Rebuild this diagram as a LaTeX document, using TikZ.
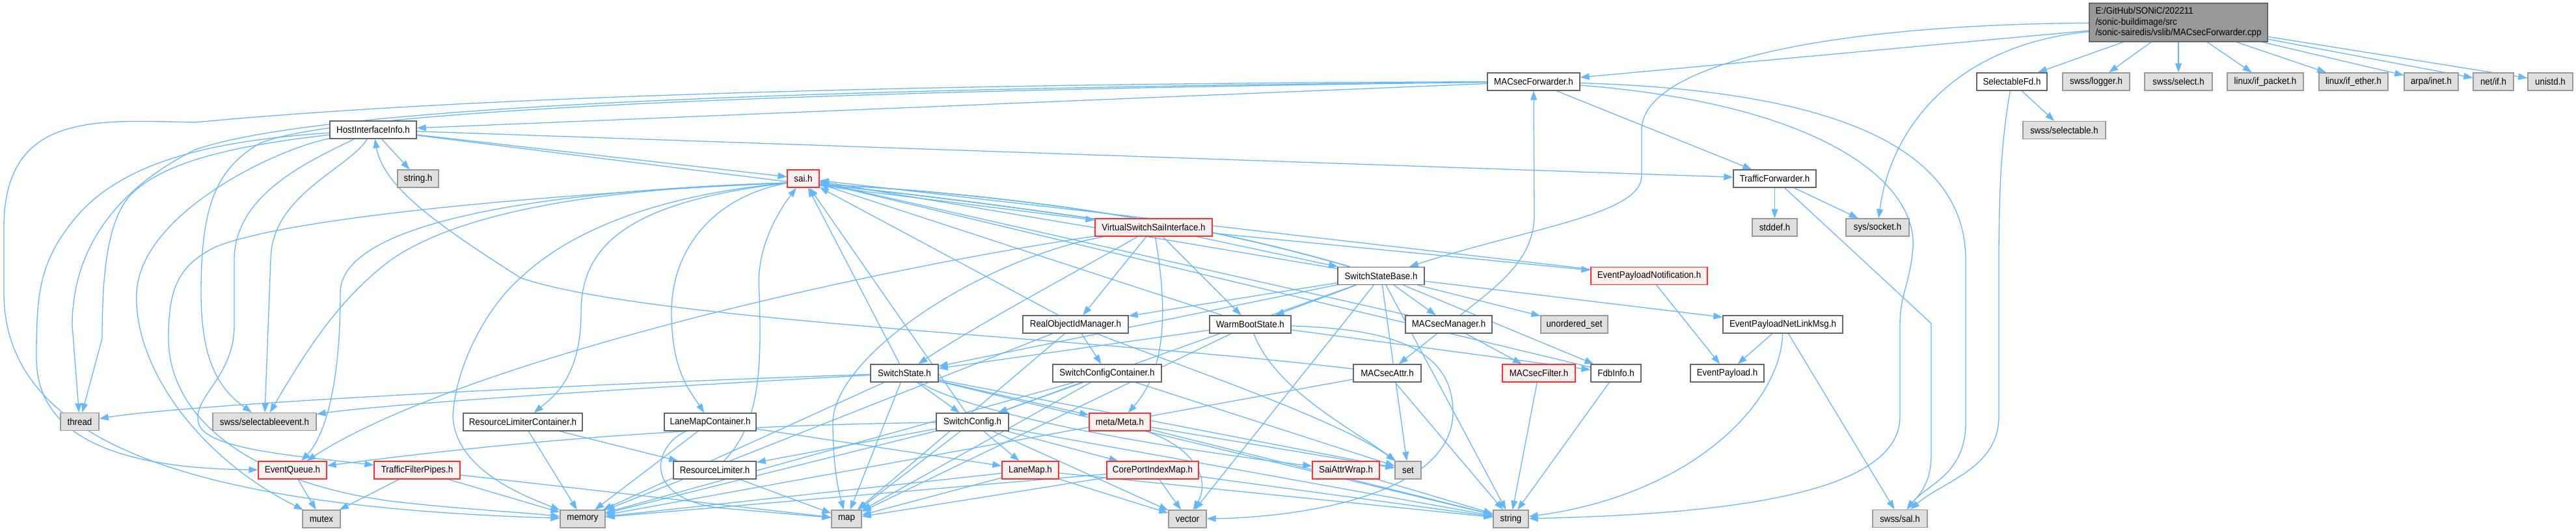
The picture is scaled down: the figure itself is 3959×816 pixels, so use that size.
\documentclass[tikz,border=0pt]{standalone}
\usepackage{fontspec}
\setmainfont{Liberation Sans}
\newfontfamily\dotfont{Liberation Sans}[FakeStretch=0.92]
\usetikzlibrary{arrows.meta,positioning,calc}
\pgfdeclarelayer{bg}
\pgfsetlayers{bg,main}
\definecolor{edgeblue}{HTML}{63B8FF}
\definecolor{boxedge}{HTML}{666666}
\definecolor{sysedge}{HTML}{999999}
\definecolor{sysfill}{HTML}{E0E0E0}
\definecolor{truncedge}{HTML}{FF3030}
\definecolor{truncfill}{HTML}{FFF0F0}
\definecolor{rootfill}{HTML}{999999}

\begin{document}
\begin{tikzpicture}[
  x=1pt, y=-1pt,
  font=\fontsize{14.5}{16.5}\dotfont,
  box/.style={rectangle, minimum height=27pt, inner sep=0pt, line width=1.3pt},
  hdr/.style={box, draw=boxedge, fill=white},
  sys/.style={box, draw=sysedge, fill=sysfill},
  trunc/.style={box, draw=truncedge, fill=truncfill},
  top/.style={box, draw=boxedge, fill=rootfill, minimum height=59pt, align=left},
  dep/.style={draw=edgeblue, line width=1.3pt, -{Triangle[length=14pt,width=10pt]}}
]
\useasboundingbox (0,0) rectangle (3959,816);

% ---------------- rank 0/1 ----------------
\node[top, minimum width=274pt] (root) at (3348,34.5) {E:/GitHub/SONiC/202211\\/sonic-buildimage/src\\/sonic-sairedis/vslib/MACsecForwarder.cpp};
\node[hdr, minimum width=142pt] (MF) at (2357,125.5) {MACsecForwarder.h};
\node[hdr, minimum width=108pt] (SFD) at (3092,125.5) {SelectableFd.h};
\node[sys, minimum width=103pt] (logger) at (3221.5,125.5) {swss/logger.h};
\node[sys, minimum width=104pt] (select) at (3348,125.5) {swss/select.h};
\node[sys, minimum width=117pt] (ifpacket) at (3481.5,125.5) {linux/if\_packet.h};
\node[sys, minimum width=106pt] (ifether) at (3617,125.5) {linux/if\_ether.h};
\node[sys, minimum width=83pt] (inet) at (3736.5,125.5) {arpa/inet.h};
\node[sys, minimum width=62pt] (netif) at (3832,125.5) {net/if.h};
\node[sys, minimum width=69pt] (unistd) at (3919.5,125.5) {unistd.h};

% ---------------- rank 2-4 ----------------
\node[sys, minimum width=127pt] (selectable) at (3172.5,200) {swss/selectable.h};
\node[hdr, minimum width=133pt] (HII) at (573.5,199.5) {HostInterfaceInfo.h};
\node[sys, minimum width=63pt] (stringh) at (642.5,274.5) {string.h};
\node[trunc, minimum width=49pt] (sai) at (1234.5,274.5) {sai.h};
\node[hdr, minimum width=127pt] (TF) at (2727.5,274.5) {TrafficForwarder.h};
\node[sys, minimum width=69pt] (stddef) at (2727.5,349.5) {stddef.h};
\node[sys, minimum width=97pt] (socket) at (2885.5,349.5) {sys/socket.h};
\node[trunc, minimum width=180pt] (VSSI) at (1773,349.5) {VirtualSwitchSaiInterface.h};

% ---------------- rank 5-7 ----------------
\node[hdr, minimum width=133pt] (SSB) at (2122.5,424) {SwitchStateBase.h};
\node[trunc, minimum width=179pt] (EPN) at (2534.5,424) {EventPayloadNotification.h};
\node[hdr, minimum width=162pt] (ROIM) at (1653,498.5) {RealObjectIdManager.h};
\node[hdr, minimum width=125pt] (WBS) at (1921.5,498.5) {WarmBootState.h};
\node[hdr, minimum width=133pt] (MM) at (2226.5,498.5) {MACsecManager.h};
\node[sys, minimum width=103pt] (uset) at (2419.5,498.5) {unordered\_set};
\node[hdr, minimum width=184pt] (EPNL) at (2740,498.5) {EventPayloadNetLinkMsg.h};
\node[hdr, minimum width=104pt] (SS) at (1390,573.5) {SwitchState.h};
\node[hdr, minimum width=167pt] (SCC) at (1701.5,573.5) {SwitchConfigContainer.h};
\node[hdr, minimum width=104pt] (MA) at (2132,573.5) {MACsecAttr.h};
\node[trunc, minimum width=112pt] (MFil) at (2365,573.5) {MACsecFilter.h};
\node[hdr, minimum width=77pt] (Fdb) at (2483.5,573.5) {FdbInfo.h};
\node[hdr, minimum width=113pt] (EP) at (2654.5,573.5) {EventPayload.h};

% ---------------- rank 8-10 ----------------
\node[sys, minimum width=59pt] (stdthread) at (122.5,648) {thread};
\node[sys, minimum width=159pt] (selev) at (406.5,648) {swss/selectableevent.h};
\node[hdr, minimum width=183pt] (RLC) at (803.5,648.5) {ResourceLimiterContainer.h};
\node[hdr, minimum width=141pt] (LMC) at (1091.5,648.5) {LaneMapContainer.h};
\node[hdr, minimum width=111pt] (SC) at (1494.5,648.5) {SwitchConfig.h};
\node[trunc, minimum width=94pt] (Meta) at (1721,648.5) {meta/Meta.h};
\node[trunc, minimum width=105pt] (EQ) at (449.5,722.5) {EventQueue.h};
\node[trunc, minimum width=132pt] (TFP) at (641,722.5) {TrafficFilterPipes.h};
\node[hdr, minimum width=127pt] (RL) at (1098.5,722.5) {ResourceLimiter.h};
\node[trunc, minimum width=87pt] (LM) at (1583.5,722.5) {LaneMap.h};
\node[trunc, minimum width=141pt] (CPIM) at (1771.5,722.5) {CorePortIndexMap.h};
\node[trunc, minimum width=103pt] (SAW) at (2068.5,722.5) {SaiAttrWrap.h};
\node[sys, minimum width=40pt] (stdset) at (2164,722.5) {set};
\node[sys, minimum width=58pt] (stdmutex) at (494,797.5) {mutex};
\node[sys, minimum width=69pt] (stdmemory) at (895.5,797.5) {memory};
\node[sys, minimum width=46pt] (stdmap) at (1301,797.5) {map};
\node[sys, minimum width=58pt] (stdvector) at (1825,797.5) {vector};
\node[sys, minimum width=54pt] (stdstring) at (2322,797.5) {string};
\node[sys, minimum width=84pt] (sal) at (2920,797) {swss/sal.h};

\begin{pgfonlayer}{bg}
% root file
\draw[dep] (root) -- (MF);
\draw[dep] (root) .. controls (2800,38) and (2523,100) .. (2523,200) -- (2523,270) .. controls (2523,330) and (2350,350) .. (SSB);
\draw[dep] (root) -- (SFD);
\draw[dep] (root) -- (logger);
\draw[dep] (root) -- (select);
\draw[dep] (root) -- (ifpacket);
\draw[dep] (root) -- (ifether);
\draw[dep] (root) -- (inet);
\draw[dep] (root) -- (netif);
\draw[dep] (root) -- (unistd);
\draw[dep] (root) .. controls (3000,70) and (2905,200) .. (socket);

% SelectableFd.h
\draw[dep] (SFD) -- (selectable);
\draw[dep] (SFD) .. controls (3075,220) and (3072,300) .. (3072,400) -- (3072,640) .. controls (3072,720) and (2985,740) .. (sal);

% MACsecForwarder.h
\draw[dep] (MF) -- (HII);
\draw[dep] (MF) -- (TF);
\draw[dep] (MF) .. controls (2800,160) and (2946,280) .. (2940,380) .. controls (2935,440) and (2920,450) .. (2920,500) -- (2920,640) .. controls (2920,760) and (2650,790) .. (stdstring);
\draw[dep] (MF) .. controls (2850,140) and (3021,240) .. (3021,400) -- (3021,650) .. controls (3021,730) and (2960,745) .. (sal);
\draw[dep] (MF) .. controls (1400,128) and (700,150) .. (300,188) .. controls (150,185) and (6,170) .. (6,350) -- (6,450) .. controls (6,700) and (350,780) .. (stdmemory);
\draw[dep] (MF) .. controls (1300,135) and (500,160) .. (300,230) .. controls (160,300) and (111,400) .. (111,500) -- (stdthread);
\draw[dep] (MF) .. controls (1200,140) and (520,170) .. (400,220) .. controls (330,260) and (309,320) .. (309,450) .. controls (309,560) and (340,600) .. (selev);

% HostInterfaceInfo.h
\draw[dep] (HII) -- (TF);
\draw[dep] (HII) -- (sai);
\draw[dep] (HII) -- (stringh);
\draw[dep] (HII) -- (VSSI);
\draw[dep] (HII) .. controls (350,215) and (200,240) .. (120,330) .. controls (60,400) and (56,450) .. (56,550) .. controls (56,680) and (200,720) .. (EQ);
\draw[dep] (HII) .. controls (350,225) and (250,250) .. (200,300) .. controls (165,340) and (157,420) .. (157,520) -- (stdthread);
\draw[dep] (HII) .. controls (420,230) and (215,330) .. (210,450) .. controls (205,560) and (300,700) .. (stdmutex);
\draw[dep] (HII) .. controls (470,250) and (360,300) .. (360,400) -- (360,500) .. controls (360,580) and (295,610) .. (305,650) .. controls (315,690) and (450,700) .. (TFP);
\draw[dep] (HII) .. controls (535,260) and (416,300) .. (416,400) -- (selev);

% MACsecAttr.h
\draw[dep] (MA) .. controls (1700,520) and (1000,495) .. (800,427) .. controls (680,350) and (590,290) .. (HII);
\draw[dep] (MA) -- (stdstring);
\draw[dep] (MA) -- (stdmemory);

% VirtualSwitchSaiInterface.h
\draw[dep] (VSSI) .. controls (1500,310) and (1300,285) .. (1212,281) .. controls (960,310) and (893,380) .. (893,480) .. controls (893,580) and (850,610) .. (RLC);
\draw[dep] (VSSI) .. controls (1500,310) and (1300,285) .. (1212,281) .. controls (1100,300) and (1032,380) .. (1032,480) .. controls (1032,570) and (1060,600) .. (LMC);
\draw[dep] (VSSI) .. controls (1500,310) and (1300,285) .. (1212,281) .. controls (900,295) and (450,330) .. (330,380) .. controls (270,410) and (259,450) .. (259,520) .. controls (259,640) and (380,740) .. (600,770) .. controls (700,782) and (800,787) .. (stdmemory);
\draw[dep] (VSSI) .. controls (1300,420) and (700,560) .. (EQ);
\draw[dep] (VSSI) -- (SSB);
\draw[dep] (VSSI) -- (ROIM);
\draw[dep] (VSSI) -- (WBS);
\draw[dep] (VSSI) -- (EPN);
\draw[dep] (VSSI) .. controls (1650,420) and (1500,500) .. (SS);
\draw[dep] (VSSI) .. controls (1790,450) and (1800,560) .. (Meta);
\draw[dep] (VSSI) .. controls (1500,400) and (1280,550) .. (1280,650) .. controls (1280,720) and (1290,760) .. (stdmap);

% SwitchStateBase.h
\draw[dep] (SSB) -- (sai);
\draw[dep] (SSB) .. controls (1700,300) and (1300,285) .. (1212,281) .. controls (1000,300) and (870,360) .. (800,427) .. controls (750,470) and (700,560) .. (696,640) .. controls (700,720) and (800,760) .. (stdmemory);
\draw[dep] (SSB) .. controls (1700,300) and (1300,285) .. (1212,281) .. controls (900,290) and (523,330) .. (523,450) .. controls (523,620) and (490,680) .. (EQ);
\draw[dep] (SSB) .. controls (1700,300) and (1300,285) .. (1212,281) .. controls (900,290) and (700,330) .. (600,400) .. controls (520,460) and (470,540) .. (selev);
\draw[dep] (SSB) -- (SS);
\draw[dep] (SSB) -- (ROIM);
\draw[dep] (SSB) -- (WBS);
\draw[dep] (SSB) -- (MM);
\draw[dep] (SSB) -- (uset);
\draw[dep] (SSB) -- (EPNL);
\draw[dep] (SSB) -- (Fdb);
\draw[dep] (SSB) -- (SC);
\draw[dep] (SSB) -- (stdset);
\draw[dep] (SSB) -- (stdvector);
\draw[dep] (SSB) -- (stdstring);

% RealObjectIdManager.h and WarmBootState.h
\draw[dep] (ROIM) -- (sai);
\draw[dep] (ROIM) -- (SCC);
\draw[dep] (ROIM) .. controls (1750,540) and (2050,640) .. (stdset);
\draw[dep] (ROIM) -- (stdmap);
\draw[dep] (ROIM) -- (stdmemory);
\draw[dep] (WBS) -- (sai);
\draw[dep] (WBS) -- (SS);
\draw[dep] (WBS) -- (Fdb);
\draw[dep] (WBS) .. controls (1960,600) and (2080,660) .. (stdset);
\draw[dep] (WBS) -- (stdmap);
\draw[dep] (WBS) .. controls (2100,505) and (2233,520) .. (2233,633) .. controls (2233,760) and (2000,795) .. (stdvector);

% MACsecManager.h
\draw[dep] (MM) .. controls (2300,440) and (2358,400) .. (2358,330) -- (MF);
\draw[dep] (MM) -- (MA);
\draw[dep] (MM) -- (MFil);
\draw[dep] (MM) -- (sai);
\draw[dep] (MFil) -- (stdstring);
\draw[dep] (Fdb) -- (sai);
\draw[dep] (Fdb) -- (stdstring);

% event payloads
\draw[dep] (EPN) -- (EP);
\draw[dep] (EPN) -- (sai);
\draw[dep] (EPNL) -- (EP);
\draw[dep] (EPNL) -- (sal);
\draw[dep] (EPNL) .. controls (2737,620) and (2600,760) .. (stdstring);

% TrafficForwarder.h
\draw[dep] (TF) -- (stddef);
\draw[dep] (TF) -- (socket);
\draw[dep] (TF) -- (2968,497) -- (2968,700) .. controls (2968,750) and (2940,770) .. (sal);

% SwitchState.h
\draw[dep] (SS) -- (sai);
\draw[dep] (SS) -- (SC);
\draw[dep] (SS) -- (Meta);
\draw[dep] (SS) .. controls (1500,640) and (1800,690) .. (SAW);
\draw[dep] (SS) .. controls (900,590) and (300,620) .. (stdthread);
\draw[dep] (SS) .. controls (1000,595) and (600,620) .. (selev);
\draw[dep] (SS) -- (stdmemory);
\draw[dep] (SS) -- (stdmap);
\draw[dep] (SS) -- (stdset);
\draw[dep] (SS) -- (stdstring);

% containers and config
\draw[dep] (SCC) -- (SC);
\draw[dep] (SCC) -- (stdmap);
\draw[dep] (SCC) -- (stdmemory);
\draw[dep] (SCC) -- (stdset);
\draw[dep] (SC) -- (sai);
\draw[dep] (SC) -- (LM);
\draw[dep] (SC) -- (RL);
\draw[dep] (SC) -- (CPIM);
\draw[dep] (SC) .. controls (1000,655) and (700,690) .. (EQ);
\draw[dep] (SC) -- (stdmemory);
\draw[dep] (SC) -- (stdmap);
\draw[dep] (SC) -- (stdstring);
\draw[dep] (SC) -- (stdvector);
\draw[dep] (LMC) -- (LM);
\draw[dep] (LMC) -- (stdmemory);
\draw[dep] (LMC) .. controls (1010,680) and (980,760) .. (1100,780) -- (stdmap);
\draw[dep] (RLC) -- (RL);
\draw[dep] (RLC) -- (stdmemory);
\draw[dep] (RL) .. controls (1170,650) and (1170,560) .. (1167,450) .. controls (1160,380) and (1200,320) .. (sai);
\draw[dep] (RL) -- (stdmap);

% truncated leaves
\draw[dep] (LM) -- (stdmap);
\draw[dep] (LM) -- (stdmemory);
\draw[dep] (LM) -- (stdvector);
\draw[dep] (LM) -- (stdstring);
\draw[dep] (CPIM) -- (stdvector);
\draw[dep] (CPIM) -- (stdstring);
\draw[dep] (CPIM) -- (stdmap);
\draw[dep] (CPIM) -- (stdmemory);
\draw[dep] (Meta) -- (stdset);
\draw[dep] (Meta) .. controls (1840,690) and (1860,740) .. (stdvector);
\draw[dep] (Meta) -- (stdstring);
\draw[dep] (SAW) -- (stdstring);
\draw[dep] (EQ) -- (stdmutex);
\draw[dep] (TFP) -- (stdmutex);
\draw[dep] (TFP) -- (stdmemory);
\draw[dep] (TFP) -- (stdmap);
\end{pgfonlayer}
\end{tikzpicture}
\end{document}
